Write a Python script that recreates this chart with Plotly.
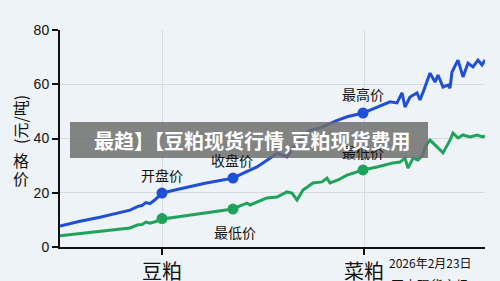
import plotly.graph_objects as go

# ---- data (x in day-index units) ----
blue_x = [0, 20, 40, 55, 70, 78, 82, 86, 90, 95, 102, 115, 130, 145, 160, 173, 185, 197, 207, 217, 227, 237, 243, 250, 260, 267, 276, 287, 297, 303, 310, 317, 323, 330, 337, 342, 345, 350, 357, 360, 363, 370, 375, 378, 383, 388, 390, 392, 398, 403, 408, 413, 418, 422, 425]
blue_y = [7.7, 9.5, 11.0, 12.2, 13.6, 15.0, 15.3, 16.4, 16.0, 17.4, 19.9, 21.0, 22.3, 23.5, 24.5, 25.4, 27.5, 29.5, 32.0, 34.6, 33.2, 38.0, 41.3, 43.0, 43.9, 45.0, 46.5, 48.0, 48.8, 49.4, 50.5, 51.5, 52.3, 53.5, 53.1, 56.8, 51.6, 55.3, 56.8, 54.2, 57.0, 64.1, 60.8, 63.4, 59.0, 59.7, 58.6, 64.5, 68.9, 62.7, 67.8, 66.4, 68.9, 67.1, 68.9]
green_x = [0, 20, 40, 55, 70, 78, 82, 86, 90, 95, 102, 115, 130, 145, 160, 173, 180, 187, 190, 197, 207, 217, 227, 232, 237, 243, 253, 262, 267, 270, 278, 287, 303, 317, 333, 340, 345, 348, 353, 358, 363, 365, 370, 377, 383, 390, 393, 398, 403, 410, 417, 423, 425]
green_y = [4.1, 4.9, 5.7, 6.3, 7.0, 8.2, 8.3, 9.2, 8.8, 9.3, 10.3, 11.0, 11.8, 12.6, 13.3, 14.0, 15.2, 16.2, 15.5, 16.6, 18.1, 18.4, 20.3, 19.9, 17.3, 21.0, 23.6, 24.0, 25.4, 23.6, 24.7, 26.5, 28.4, 29.5, 31.0, 31.3, 32.8, 29.1, 32.8, 32.1, 33.9, 36.9, 39.4, 36.9, 34.7, 39.4, 42.0, 40.2, 41.3, 40.6, 41.3, 40.6, 41.0]
mark_x = [102, 173, 303]
blue_mark = [19.9, 25.4, 49.4]
green_mark = [10.5, 14.0, 28.4]
cat_pos = [102, 304]
cat_labels = ["豆粕", "菜粕"]
y_ticks = [0, 20, 40, 60, 80]

BLUE = "#1f4fd6"
GREEN = "#1fa35a"
BG = "#eef3f7"
FONT = "Noto Sans CJK SC"

# plot-area pixel geometry helpers
L, R, T, B = 60, 485, 30, 247
def px(xp):
    return (xp - L) / (R - L)
def py(yp):
    return (B - yp) / (B - T)

fig = go.Figure()
fig.add_trace(go.Scatter(x=blue_x, y=blue_y, mode="lines",
                         line=dict(color=BLUE, width=3), hoverinfo="skip"))
fig.add_trace(go.Scatter(x=green_x, y=green_y, mode="lines",
                         line=dict(color=GREEN, width=3), hoverinfo="skip"))
fig.add_trace(go.Scatter(x=mark_x, y=blue_mark, mode="markers",
                         marker=dict(color=BLUE, size=11), hoverinfo="skip"))
fig.add_trace(go.Scatter(x=mark_x, y=green_mark, mode="markers",
                         marker=dict(color=GREEN, size=11), hoverinfo="skip"))

ann = []
def label(x, y, text, size=14, color="#111", xref="x", yref="y", **kw):
    ann.append(dict(x=x, y=y, xref=xref, yref=yref, text=text, showarrow=False,
                    xanchor="center", yanchor="middle",
                    font=dict(family=FONT, size=size, color=color), **kw))

label(102, 26.5, "开盘价")
label(172, 32.0, "收盘价")
label(303, 56.5, "最高价")
label(303, 35.2, "最低价")
label(175, 5.5, "最低价")

# y-axis title (stacked like the reference)
label(px(20), py(120), "(元/吨)", size=16, xref="paper", yref="paper", textangle=-90)
label(px(21), py(160), "格", size=16, xref="paper", yref="paper")
label(px(21), py(178), "价", size=16, xref="paper", yref="paper")

# date & source text
label(px(430), py(262), "2026年2月23日", size=12, xref="paper", yref="paper")
label(px(430), py(284), "国内现货市场", size=13, xref="paper", yref="paper")

# overlay banner title
label(px(252), py(140), "<b>最趋】【豆粕现货行情,豆粕现货费用</b>", size=20,
      color="white", xref="paper", yref="paper")

fig.update_layout(
    width=500, height=281,
    margin=dict(l=L, r=500 - R, t=T, b=281 - B, autoexpand=False),
    paper_bgcolor=BG, plot_bgcolor=BG,
    showlegend=False,
    annotations=ann,
    shapes=[dict(type="rect", xref="paper", yref="paper",
                 x0=px(70), x1=px(428), y0=py(158), y1=py(122),
                 fillcolor="rgba(110,110,110,0.85)", line=dict(width=0),
                 layer="above")],
)

fig.update_xaxes(range=[0, 425], tickvals=cat_pos, ticktext=cat_labels,
                 showgrid=True, gridcolor="#d5dbe1", gridwidth=1,
                 showline=True, linecolor="#111", linewidth=2,
                 ticks="outside", ticklen=6, tickcolor="#111", tickwidth=1.5,
                 tickfont=dict(family=FONT, size=20, color="#111"),
                 zeroline=False, automargin=False)
fig.update_yaxes(range=[0, 80], tickvals=y_ticks,
                 showgrid=True, gridcolor="#d5dbe1", gridwidth=1,
                 showline=True, linecolor="#111", linewidth=2,
                 ticks="outside", ticklen=6, tickcolor="#111", tickwidth=1.5,
                 tickfont=dict(family="Liberation Sans", size=14, color="#111"),
                 zeroline=False, automargin=False)

fig.write_html("out.html")
